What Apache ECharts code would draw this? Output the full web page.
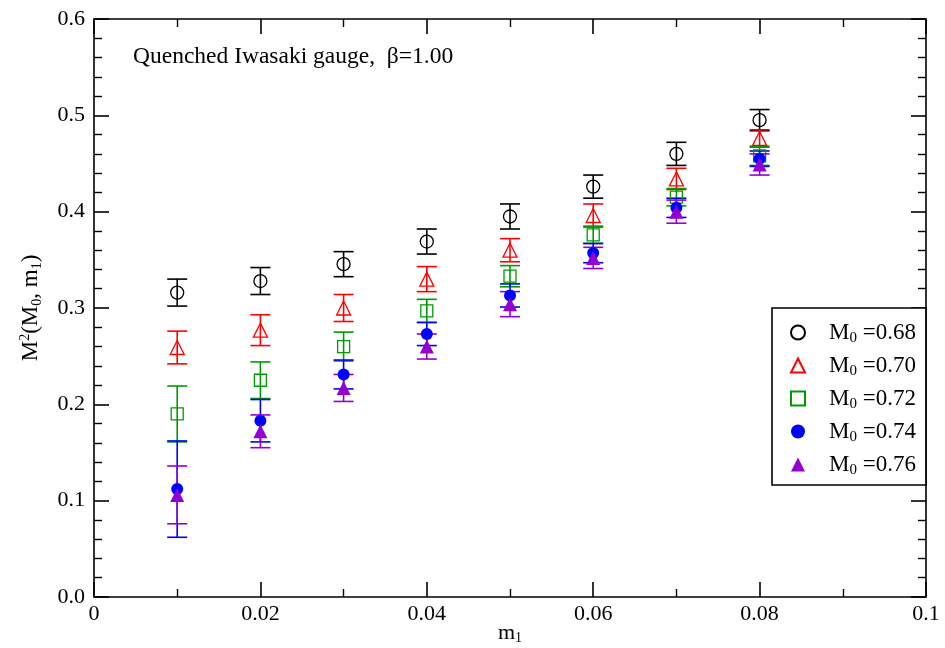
<!DOCTYPE html>
<html>
<head>
<meta charset="utf-8">
<script src="https://cdn.jsdelivr.net/npm/echarts@6/dist/echarts.min.js"></script>
<style>
html, body { margin: 0; padding: 0; background: #fff; }
#chart { width: 945px; height: 648px; }
</style>
</head>
<body>
<div id="chart"></div>
<script>
var myChart = echarts.init(document.getElementById('chart'));

// m1 values
var m1 = [0.01, 0.02, 0.03, 0.04, 0.05, 0.06, 0.07, 0.08];
// M0 labels
var m0Labels = ['0.68', '0.70', '0.72', '0.74', '0.76'];

// M^2 values and errors
var mass068 = [0.316, 0.328, 0.3455, 0.369, 0.395, 0.426, 0.460, 0.495];
var err068  = [0.014, 0.014, 0.013, 0.013, 0.013, 0.012, 0.012, 0.011];
var mass070 = [0.259, 0.277, 0.300, 0.330, 0.360, 0.396, 0.434, 0.476];
var err070  = [0.017, 0.016, 0.014, 0.013, 0.012, 0.012, 0.011, 0.009];
var mass072 = [0.190, 0.225, 0.260, 0.297, 0.333, 0.376, 0.415, 0.458];
var err072  = [0.029, 0.019, 0.015, 0.012, 0.011, 0.009, 0.009, 0.010];
var mass074 = [0.112, 0.183, 0.231, 0.273, 0.313, 0.357, 0.404, 0.455];
var err074  = [0.050, 0.022, 0.015, 0.012, 0.012, 0.010, 0.010, 0.008];
var mass076 = [0.106, 0.172, 0.217, 0.260, 0.304, 0.352, 0.400, 0.449];
var err076  = [0.030, 0.017, 0.014, 0.013, 0.013, 0.011, 0.012, 0.011];

var masses = [mass068, mass070, mass072, mass074, mass076];
var errs = [err068, err070, err072, err074, err076];
var colors = ['#000000', '#ff0000', '#009a00', '#0000ff', '#9400d3'];
var symbols = ['circle', 'triangle', 'rect', 'circle', 'triangle'];
var symbolSizes = [13, 14, 12, 12, 14];
var hollow = [true, true, true, false, false];

var FONT = 'Liberation Serif';

function errorBarRender(color) {
    return function (params, api) {
        var x = api.value(0), y = api.value(1), e = api.value(2);
        var top = api.coord([x, y + e]);
        var bot = api.coord([x, y - e]);
        var hw = 10;
        var style = { stroke: color, lineWidth: 1.6 };
        return {
            type: 'group',
            children: [
                { type: 'line', shape: { x1: top[0], y1: top[1], x2: bot[0], y2: bot[1] }, style: style },
                { type: 'line', shape: { x1: top[0] - hw, y1: top[1], x2: top[0] + hw, y2: top[1] }, style: style },
                { type: 'line', shape: { x1: bot[0] - hw, y1: bot[1], x2: bot[0] + hw, y2: bot[1] }, style: style }
            ]
        };
    };
}

var series = [];
for (var i = 0; i < m0Labels.length; i++) {
    var name = m0Labels[i];
    series.push({
        type: 'custom',
        name: name + '_err',
        renderItem: errorBarRender(colors[i]),
        data: m1.map(function (x, k) { return [x, masses[i][k], errs[i][k]]; }),
        encode: { x: 0, y: 1 },
        silent: true,
        z: 2 + i
    });
    series.push({
        type: 'scatter',
        name: name,
        symbol: symbols[i],
        symbolSize: symbolSizes[i],
        data: m1.map(function (x, k) { return [x, masses[i][k]]; }),
        itemStyle: hollow[i]
            ? { color: 'rgba(255,255,255,0)', borderColor: colors[i], borderWidth: 1.3, opacity: 1 }
            : { color: colors[i], opacity: 1 },
        z: 3 + i
    });
}

var axisCommon = {
    axisLine: { show: true, onZero: false, lineStyle: { color: '#000', width: 1.6 } },
    axisTick: { show: true, inside: true, length: 15, lineStyle: { color: '#000', width: 1.6 } },
    minorTick: { show: true, length: 8, lineStyle: { color: '#000', width: 1.4 } },
    splitLine: { show: false }
};

myChart.setOption({
    backgroundColor: '#fff',
    animation: false,
    grid: { left: 94, right: 19, top: 19, bottom: 51, outerBoundsMode: 'none', containLabel: false },
    xAxis: [
        echarts.util.merge({
            type: 'value', min: 0, max: 0.1, interval: 0.02,
            minorTick: { splitNumber: 2 },
            axisLabel: {
                color: '#000', fontFamily: FONT, fontSize: 22, margin: 6,
                formatter: function (v) { return v === 0 ? '0' : String(+v.toFixed(2)); }
            },
            name: '{m|m}{s|1}', nameLocation: 'middle', nameGap: 24, nameMoveOverlap: false,
            nameTextStyle: {
                rich: {
                    m: { fontFamily: FONT, fontSize: 22, color: '#000' },
                    s: { fontFamily: FONT, fontSize: 14, color: '#000', padding: [10, 0, 0, 0] }
                }
            }
        }, axisCommon, false),
        echarts.util.merge({
            type: 'value', min: 0, max: 0.1, interval: 0.02, position: 'top',
            minorTick: { splitNumber: 2 }, axisLabel: { show: false }
        }, axisCommon, false)
    ],
    yAxis: [
        echarts.util.merge({
            type: 'value', min: 0, max: 0.6, interval: 0.1,
            minorTick: { splitNumber: 5 },
            axisLabel: {
                color: '#000', fontFamily: FONT, fontSize: 22, margin: 9,
                formatter: function (v) { return v.toFixed(1); }
            },
            name: '{m|M}{p|2}{m|(M}{s|0}{m|, m}{s|1}{m|)}', nameLocation: 'middle', nameGap: 50, nameRotate: 90,
            nameMoveOverlap: false,
            nameTextStyle: {
                rich: {
                    m: { fontFamily: FONT, fontSize: 23, color: '#000' },
                    p: { fontFamily: FONT, fontSize: 14, color: '#000', padding: [0, 0, 12, 0] },
                    s: { fontFamily: FONT, fontSize: 14, color: '#000', padding: [12, 0, 0, 0] }
                }
            }
        }, axisCommon, false),
        echarts.util.merge({
            type: 'value', min: 0, max: 0.6, interval: 0.1, position: 'right',
            minorTick: { splitNumber: 5 }, axisLabel: { show: false }
        }, axisCommon, false)
    ],
    legend: {
        orient: 'vertical',
        left: 772, top: 308,
        padding: [13, 10, 7, 18],
        itemGap: 8,
        itemWidth: 14, itemHeight: 14,
        borderColor: '#000', borderWidth: 1.6,
        backgroundColor: '#fff',
        data: m0Labels,
        formatter: function (n) { return '{m|M}{s|0}{m| =' + n + '}'; },
        textStyle: {
            padding: [0, 0, 0, 19],
            rich: {
                m: { fontFamily: FONT, fontSize: 23, color: '#000' },
                s: { fontFamily: FONT, fontSize: 15, color: '#000', padding: [12, 0, 0, 0] }
            }
        }
    },
    graphic: [{
        type: 'text', left: 133, top: 45,
        style: { text: 'Quenched Iwasaki gauge,  \u03b2=1.00', font: '23.5px "Liberation Serif"', fill: '#000' }
    }],
    series: series
});
</script>
</body>
</html>
